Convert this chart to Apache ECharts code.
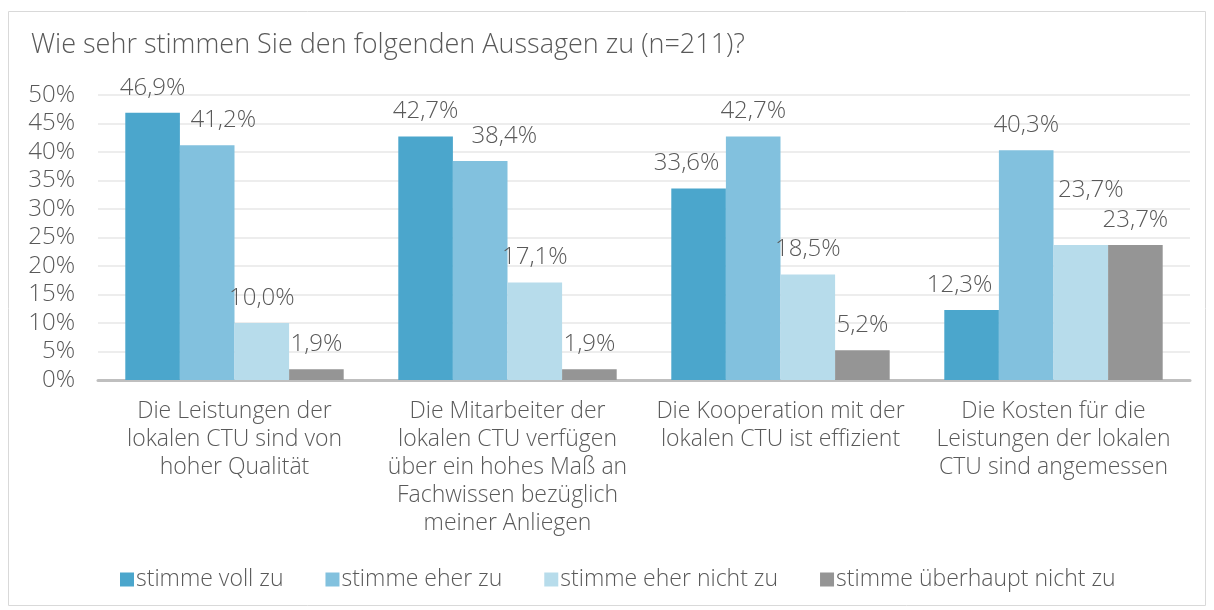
<!doctype html>
<html lang="de">
    <head>
        <meta charset="UTF-8" />
        <title>CTU Umfrage</title>
        <script src="https://cdn.jsdelivr.net/npm/echarts@6/dist/echarts.min.js"></script>
        <style>
            body { margin: 0; background: #fff; }
        </style>
    </head>
    <body>
        <div id="main" style="width: 1214px; height: 610px"></div>

        <script>
            // Data
            const categories = [
                "Die Leistungen der\nlokalen CTU sind von\nhoher Qualität",
                "Die Mitarbeiter der\nlokalen CTU verfügen\nüber ein hohes Maß an\nFachwissen bezüglich\nmeiner Anliegen",
                "Die Kooperation mit der\nlokalen CTU ist effizient",
                "Die Kosten für die\nLeistungen der lokalen\nCTU sind angemessen",
            ];
            const seriesNames = [
                "stimme voll zu",
                "stimme eher zu",
                "stimme eher nicht zu",
                "stimme überhaupt nicht zu",
            ];
            const vollZu = [46.9, 42.7, 33.6, 12.3];
            const eherZu = [41.2, 38.4, 42.7, 40.3];
            const eherNichtZu = [10.0, 17.1, 18.5, 23.7];
            const ueberhauptNichtZu = [1.9, 1.9, 5.2, 23.7];
            const yTicks = { min: 0, max: 50, interval: 5 };

            const colors = ["#4ba6cc", "#82c1de", "#b7dceb", "#959595"];
            const font = "'Open Sans', 'Noto Sans', sans-serif";
            const textColor = "#595959";

            // label nudges like in the original (series index -> category index -> [dx, dy])
            const labelNudge = {
                0: { 2: [-12, 0], 3: [-12, 0] },
                1: { 0: [16, 0], 1: [24, 0] },
                2: { 3: [10, -30] },
            };

            const myChart = echarts.init(document.getElementById("main"));

            const makeSeries = (name, values, i) => ({
                name: name,
                type: "bar",
                data: values.map((v, j) => {
                    const nudge = (labelNudge[i] || {})[j];
                    return nudge ? { value: v, label: { offset: nudge } } : v;
                }),
                barGap: "0%",
                barCategoryGap: "20%",
                itemStyle: { color: colors[i] },
                label: {
                    show: true,
                    position: "top",
                    distance: 13,
                    fontFamily: font,
                    fontWeight: 300,
                    fontSize: 24,
                    color: textColor,
                    formatter: (p) => p.value.toFixed(1).replace(".", ",") + "%",
                },
            });

            const options = {
                textStyle: { fontFamily: font },
                graphic: [
                    {
                        type: "rect",
                        shape: { x: 8.5, y: 11.5, width: 1197, height: 594 },
                        style: { fill: "none", stroke: "#d9d9d9", lineWidth: 1 },
                    },
                ],
                title: {
                    text: "Wie sehr stimmen Sie den folgenden Aussagen zu (n=211)?",
                    left: 26,
                    top: 27,
                    textStyle: {
                        fontFamily: font,
                        fontSize: 27,
                        fontWeight: 300,
                        color: textColor,
                    },
                },
                legend: {
                    data: seriesNames,
                    top: 563,
                    left: 115,
                    itemWidth: 14,
                    itemHeight: 14,
                    itemGap: 42,
                    icon: "rect",
                    textStyle: {
                        fontFamily: font,
                        fontWeight: 300,
                        fontSize: 23,
                        color: textColor,
                        padding: [0, 0, 0, -3],
                    },
                },
                grid: {
                    left: 98,
                    right: 24,
                    top: 95,
                    bottom: 230,
                },
                xAxis: {
                    type: "category",
                    data: categories,
                    axisTick: { show: false },
                    axisLine: { lineStyle: { color: "#bfbfbf", width: 3 } },
                    axisLabel: {
                        interval: 0,
                        margin: 17,
                        fontFamily: font,
                        fontWeight: 300,
                        fontSize: 23,
                        lineHeight: 28,
                        color: textColor,
                    },
                },
                yAxis: {
                    type: "value",
                    min: yTicks.min,
                    max: yTicks.max,
                    interval: yTicks.interval,
                    axisLabel: {
                        formatter: "{value}%",
                        fontFamily: font,
                        fontWeight: 300,
                        fontSize: 24,
                        color: textColor,
                        margin: 23,
                    },
                    splitLine: { lineStyle: { color: "#ededed", width: 2 } },
                },
                series: [
                    makeSeries(seriesNames[0], vollZu, 0),
                    makeSeries(seriesNames[1], eherZu, 1),
                    makeSeries(seriesNames[2], eherNichtZu, 2),
                    makeSeries(seriesNames[3], ueberhauptNichtZu, 3),
                ],
            };

            myChart.setOption(options);
        </script>
    </body>
</html>
